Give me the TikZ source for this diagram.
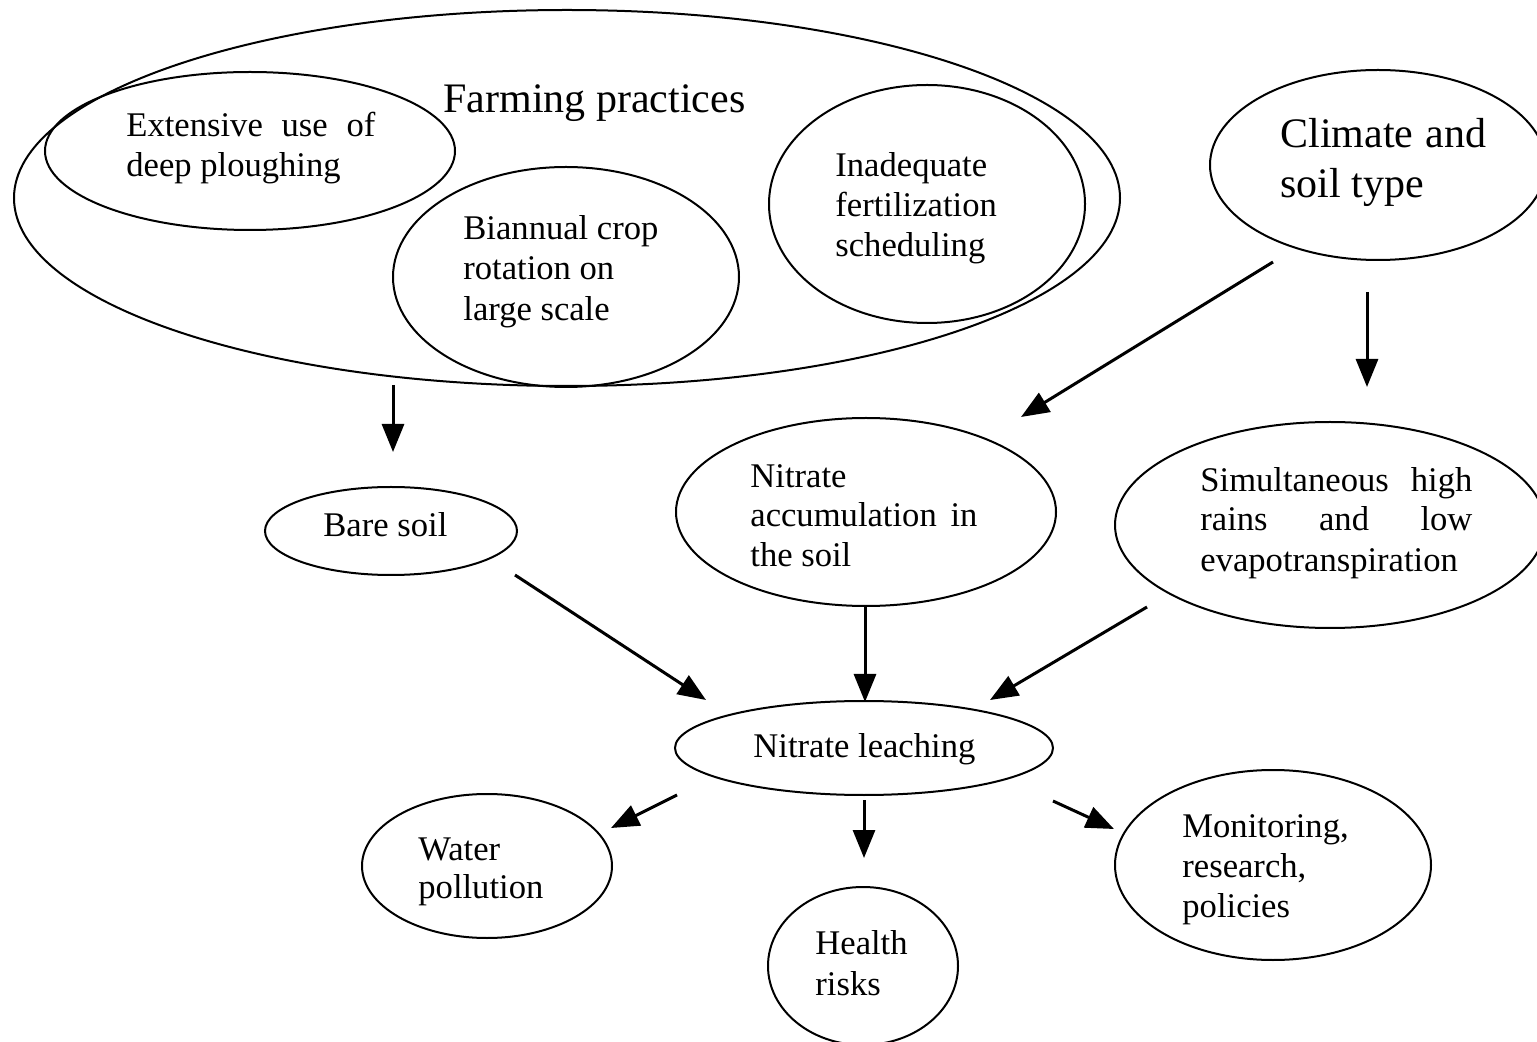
\documentclass[tikz,border=0pt]{standalone}
\usepackage{fontspec}
\setmainfont{Liberation Serif}
\usetikzlibrary{shapes.geometric,arrows.meta}
\begin{document}
\begin{tikzpicture}[x=0.5pt,y=-0.5pt,
  ell/.style={draw, ellipse, line width=1pt, inner sep=0pt},
  txt/.style={anchor=base west, inner sep=0pt, font=\fontsize{17.3}{20}\selectfont},
  bigtxt/.style={anchor=base west, inner sep=0pt, font=\fontsize{21}{26}\selectfont},
  arr/.style={line width=1.5pt, -{Triangle[width=11pt,length=14pt]}}]
\clip (0,0) rectangle (1537,1042);
\fill[white] (0,0) rectangle (1537,1042);
% ellipses (minimum width = rx pt, since 1px = 0.5pt)
\node[ell, minimum width=1106pt*0.5, minimum height=376pt*0.5] (farm) at (567,198) {};
\node[ell, minimum width=410pt*0.5, minimum height=158pt*0.5] (ext) at (250,151) {};
\node[ell, minimum width=346pt*0.5, minimum height=220pt*0.5] (bia) at (566,277) {};
\node[ell, minimum width=316pt*0.5, minimum height=238pt*0.5] (ina) at (927,204) {};
\node[ell, minimum width=336pt*0.5, minimum height=190pt*0.5] (cli) at (1378,165) {};
\node[ell, minimum width=252pt*0.5, minimum height=88pt*0.5] (bare) at (391,531) {};
\node[ell, minimum width=380pt*0.5, minimum height=188pt*0.5] (acc) at (866,512) {};
\node[ell, minimum width=430pt*0.5, minimum height=206pt*0.5] (sim) at (1330,525) {};
\node[ell, minimum width=378pt*0.5, minimum height=94pt*0.5] (lea) at (864,748) {};
\node[ell, minimum width=250pt*0.5, minimum height=144pt*0.5] (wat) at (487,866) {};
\node[ell, minimum width=190pt*0.5, minimum height=158pt*0.5] (hea) at (863,966) {};
\node[ell, minimum width=316pt*0.5, minimum height=190pt*0.5] (mon) at (1273,865) {};
% texts
\node[bigtxt] (farmT) at (443,113) {Farming practices};
\node[txt] (ext1) at (126,137) {\makebox[124.5pt][s]{Extensive use of}};
\node[txt] (ext2) at (126,177) {deep ploughing};
\node[txt] (bia1) at (463,240) {Biannual crop};
\node[txt] (bia2) at (463,280) {rotation on};
\node[txt] (bia3) at (463,321) {large scale};
\node[txt] (ina1) at (835,177) {Inadequate};
\node[txt] (ina2) at (835,217) {fertilization};
\node[txt] (ina3) at (835,257) {scheduling};
\node[bigtxt] (cli1) at (1280,148) {\makebox[103pt][s]{Climate and}};
\node[bigtxt] (cli2) at (1280,198) {soil type};
\node[txt] (bareT) at (323,537) {Bare soil};
\node[txt] (acc1) at (750,488) {Nitrate};
\node[txt] (acc2) at (750,527) {\makebox[113.5pt][s]{accumulation in}};
\node[txt] (acc3) at (750,567) {the soil};
\node[txt] (sim1) at (1200,492) {\makebox[136pt][s]{Simultaneous high}};
\node[txt] (sim2) at (1200,531) {\makebox[136pt][s]{rains and low}};
\node[txt] (sim3) at (1200,572) {evapotranspiration};
\node[txt] (leaT) at (753,757) {Nitrate leaching};
\node[txt] (wat1) at (418,860) {Water};
\node[txt] (wat2) at (418,898) {pollution};
\node[txt] (hea1) at (815,954) {Health};
\node[txt] (hea2) at (815,995) {risks};
\node[txt] (mon1) at (1182,837) {Monitoring,};
\node[txt] (mon2) at (1182,877) {research,};
\node[txt] (mon3) at (1182,917) {policies};
% arrow end points
\coordinate (a1s) at (393,385);  \coordinate (a1e) at (393,452);
\coordinate (a2s) at (1273,262); \coordinate (a2e) at (1021,417);
\coordinate (a3s) at (1367,292); \coordinate (a3e) at (1367,387);
\coordinate (a4s) at (515,575);  \coordinate (a4e) at (706,700);
\coordinate (a5s) at (865,607);  \coordinate (a5e) at (865,702);
\coordinate (a6s) at (1147,607); \coordinate (a6e) at (990,700);
\coordinate (a7s) at (677,795);  \coordinate (a7e) at (611,828);
\coordinate (a8s) at (864,800);  \coordinate (a8e) at (864,858);
\coordinate (a9s) at (1053,801); \coordinate (a9e) at (1114,829);
\foreach \i in {1,...,9} { \draw[arr] (a\i s) -- (a\i e); }
\end{tikzpicture}
\end{document}
